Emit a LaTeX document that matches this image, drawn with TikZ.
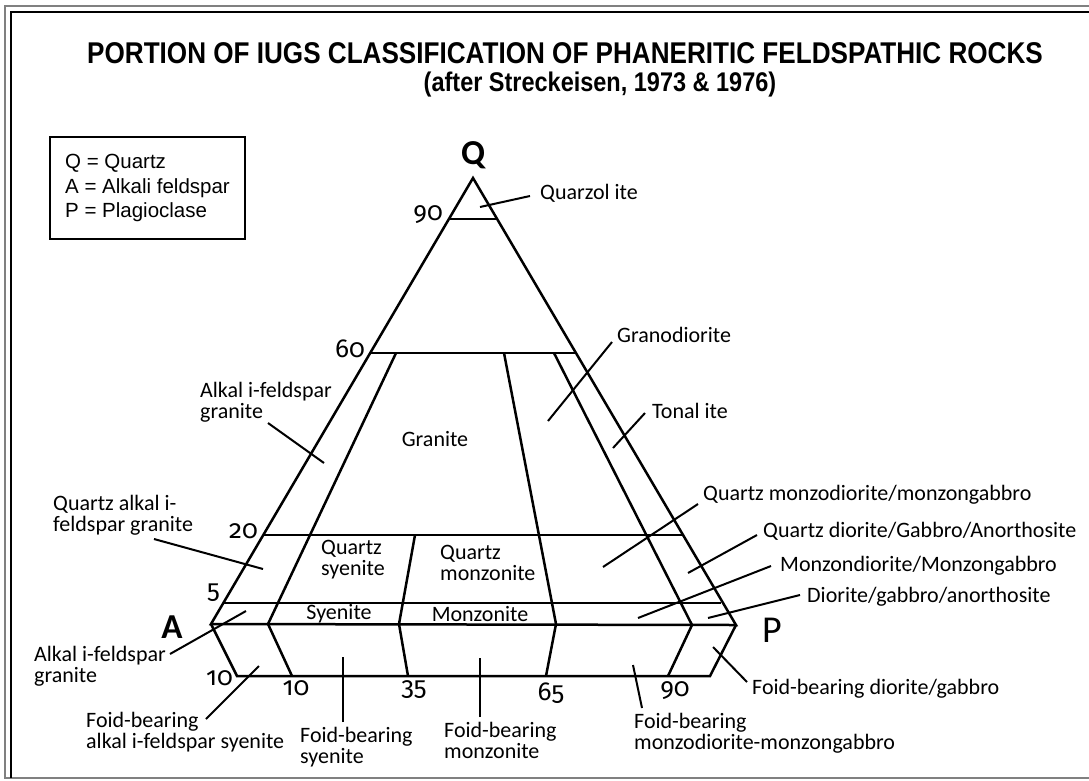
\documentclass[tikz,border=0pt]{standalone}
\usepackage{fontspec}
\setmainfont{Carlito}
\newfontfamily\figfont{Fira Sans}[Numbers=OldStyle]
\newfontfamily\headfont{Liberation Sans}[FakeStretch=0.87]
\newfontfamily\keyfont{Liberation Sans}
\usetikzlibrary{positioning}
\tikzset{
    edge/.style={
        line width=2.5pt
    },
    leader/.style={
        line width=2pt
    },
    rock/.style={
        inner sep=0pt,
        align=left,
        anchor=west,
        font=\fontsize{22}{21}\selectfont
    },
    field/.style={
        rock,
        anchor=center
    },
    tick/.style={
        inner sep=0pt,
        font=\figfont\fontsize{26}{26}\selectfont
    },
    corner/.style={
        inner sep=0pt,
        font=\bfseries\fontsize{35}{35}\selectfont
    },
    keybox/.style={
        draw,
        line width=2.4pt,
        align=left,
        inner xsep=15pt,
        minimum height=102pt,
        font=\keyfont\fontsize{20.5}{24.5}\selectfont
    }
}

\begin{document}
\begin{tikzpicture}[x=1pt,y=-1pt]
\useasboundingbox (0,0) rectangle (1089,780);

% frame
\draw[gray, line width=1.5pt] (1095,6) -- (5,6) -- (5,778) -- (1095,778);
\draw[line width=2pt] (1095,12) -- (11,12) -- (11,778);

% heading
\node[inner sep=0pt, font=\headfont\bfseries\fontsize{30}{30}\selectfont] (title) at (565,53)
    {PORTION OF IUGS CLASSIFICATION OF PHANERITIC FELDSPATHIC ROCKS};
\node[inner sep=0pt, font=\headfont\bfseries\fontsize{27}{27}\selectfont] (subtitle) at (600,85)
    {(after Streckeisen, 1973 \& 1976)};

% key
\node[keybox] (key) at (147.5,188) {Q = Quartz\\A = Alkali feldspar\\P = Plagioclase};

% triangle
\coordinate (Q) at (473,178);
\coordinate (A) at (211,624);
\coordinate (P) at (736,625);

\draw[edge] (Q) -- (A) -- (P) -- cycle;
\draw[edge] (A) -- (237,676) -- (710,676) -- (P);

\draw[edge] (449,219) -- (497,219);
\draw[edge] (371,353) -- (576,353);
\draw[edge] (263,535) -- (682,535);
\draw[edge] (223,603) -- (721,603);

\draw[edge] (396,353) -- (268,624) -- (292,676);
\draw[edge] (415,535) -- (399,624) -- (408,676);
\draw[edge] (504,353) -- (556,624) -- (546,676);
\draw[edge] (554,353) -- (692,625) -- (668,676);

% corners
\node[corner] (lQ) at (473,155) {Q};
\node[corner] (lA) at (172,627) {A};
\node[corner, font=\fontsize{38}{38}\selectfont] (lP) at (772,630) {P};

% percentages
\node[tick, anchor=base east] (t90) at (443,220) {90};
\node[tick, anchor=base east] (t60) at (365,357) {60};
\node[tick, anchor=base east] (t20) at (258,538) {20};
\node[tick, anchor=base east] (t5) at (220,598) {5};
\node[tick, anchor=base east] (t10) at (233,685) {10};
\node[tick, anchor=base] (b10) at (296,695) {10};
\node[tick, anchor=base] (b35) at (414,695) {35};
\node[tick, anchor=base] (b65) at (551,700) {65};
\node[tick, anchor=base] (b90) at (675,696) {90};

% fields
\node[field] (granite) at (435,439) {Granite};
\node[rock] (qsye) at (321,560) {Quartz\\syenite};
\node[rock] (qmon) at (440,563) {Quartz\\monzonite};
\node[field] (syenite) at (339,614) {Syenite};
\node[field] (monzonite) at (480,614) {Monzonite};

% rock names outside
\node[rock] (quarzolite) at (540,193) {Quarzol ite};
\node[rock] (granodiorite) at (617,335) {Granodiorite};
\node[rock] (tonalite) at (652,411) {Tonal ite};
\node[rock] (qmzd) at (703,495) {Quartz monzodiorite/monzongabbro};
\node[rock] (qdio) at (763,531) {Quartz diorite/Gabbro/Anorthosite};
\node[rock] (mzd) at (780,566) {Monzondiorite/Monzongabbro};
\node[rock] (dio) at (807,597) {Diorite/gabbro/anorthosite};
\node[rock] (fdio) at (752,689) {Foid-bearing diorite/gabbro};
\node[rock] (afgup) at (200,402) {Alkal i-feldspar\\granite};
\node[rock] (qafg) at (53,515) {Quartz alkal i-\\feldspar granite};
\node[rock] (afglow) at (34,666) {Alkal i-feldspar\\granite};
\node[rock] (fafs) at (86,732) {Foid-bearing\\alkal i-feldspar syenite};
\node[rock] (fsye) at (300,747) {Foid-bearing\\syenite};
\node[rock] (fmon) at (444,740) {Foid-bearing\\monzonite};
\node[rock] (fmzd) at (634,733) {Foid-bearing\\monzodiorite-monzongabbro};

% leader targets
\foreach \n/\x/\y in {quarzolite/480/207, granodiorite/548/421, tonalite/613/448,
    qmzd/603/567, qdio/688/573, mzd/638/618, dio/708/618, fdio/713/647,
    afgup/324/463, qafg/263/569, afglow/246/611, fafs/259/666,
    fsye/343/657, fmon/480/658, fmzd/633/665}
    \coordinate (\n-pt) at (\x,\y);

% leaders
\foreach \n/\dx/\dy in {quarzolite/-10/3, granodiorite/-5/7, tonalite/-7/2,
    qmzd/-5/9, qdio/-6/4, mzd/-9/0, dio/-7/-2, fdio/-5/-7,
    afgup/68/21, qafg/101/24, afglow/136/-12, fafs/120/-13,
    fsye/43/-25, fmon/36/-23, fmzd/8/-25}
    \draw[leader] (\n.west) ++(\dx,\dy) -- (\n-pt);

\end{tikzpicture}
\end{document}
